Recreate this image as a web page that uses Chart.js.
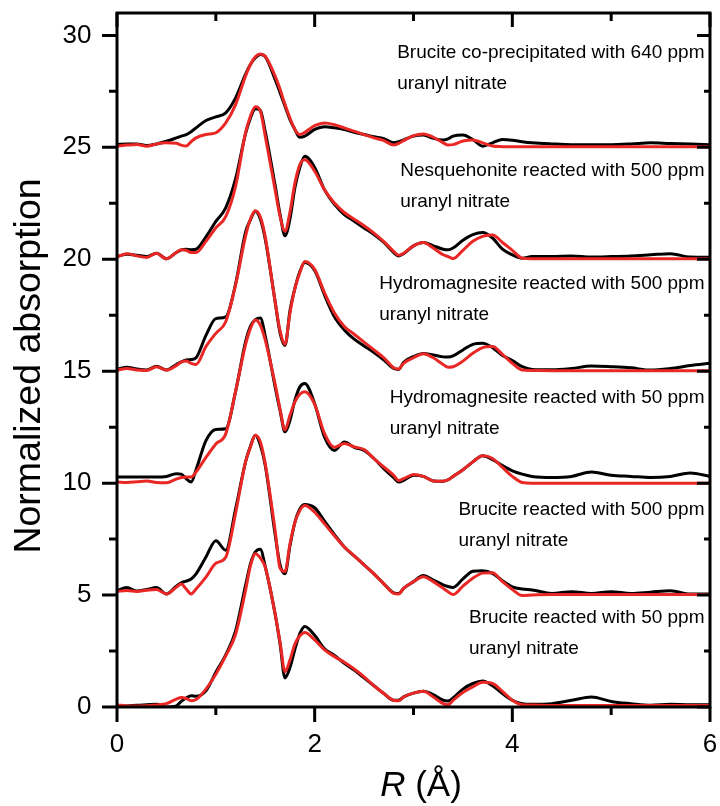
<!DOCTYPE html>
<html>
<head>
<meta charset="utf-8">
<script src="https://cdn.jsdelivr.net/npm/chart.js@4.4.0/dist/chart.umd.min.js"></script>
<style>
html,body{margin:0;padding:0;background:#ffffff;}
#wrap{width:720px;height:806px;position:relative;}
canvas{display:block;}
</style>
</head>
<body>
<div id="wrap"><canvas id="c" width="720" height="806"></canvas></div>
<script>
// ---------- DATA ----------
const rValues = [0,0.1,0.2,0.3,0.4,0.5,0.6,0.65,0.7,0.75,0.8,0.9,1.0,1.1,1.2,1.3,1.35,1.4,1.45,1.5,1.6,1.65,1.7,1.75,1.8,1.85,1.9,2.0,2.1,2.2,2.3,2.4,2.5,2.6,2.7,2.8,2.85,2.9,3.0,3.1,3.2,3.3,3.35,3.4,3.5,3.6,3.7,3.8,3.9,4.0,4.1,4.2,4.4,4.6,4.8,5.0,5.2,5.4,5.6,5.8,6.0];

const brucite640Data = [25.12,25.15,25.15,25.08,25.15,25.27,25.42, 25.5,25.57,25.7,25.87,26.2, 26.36,26.54,27.21,28.26, 28.7,29.0,29.15,29.05, 28.03,27.44,26.84,26.24,25.8,25.45, 25.5,25.8,25.92,25.87,25.8,25.67,25.57,25.47,25.39,25.2, 25.25,25.33,25.5,25.55,25.4,25.33, 25.38,25.5,25.55,25.35,25.05,25.2,25.35,25.32,25.25,25.2, 25.15,25.12,25.12,25.12,25.15,25.2,25.17,25.15,25.12];
const brucite640Fit = [25.05,25.1,25.13,25.05,25.15,25.2,25.18, 25.1,25.06,25.25,25.42,25.57, 25.65,26.09,26.91,28.18, 28.7,29.05,29.17,29.07, 28.18,27.59,26.91,26.31,25.8,25.57, 25.67,25.97,26.09,26.01,25.87,25.72,25.57,25.42,25.3,25.1, 25.18,25.3,25.52,25.6,25.45,25.2, 25.1,25.12,25.28,25.33,25.2,25.06,25.03,25.02,25.02,25.02, 25.02,25.02,25.02,25.02,25.02,25.02,25.02,25.02,25.02];

const nesquehoniteData = [20.12,20.22,20.18,20.12,20.27,20.02,20.3, 20.42,20.45,20.43,20.45,21.0, 21.69,22.3,23.6,25.6, 26.3,26.72,26.65,25.7, 23.3,22.0,21.05,21.8,23.2,24.1, 24.6,24.1,23.1,22.45,22.0,21.7,21.4,21.1,20.75,20.3, 20.15,20.25,20.6,20.75,20.6,20.45, 20.42,20.5,20.85,21.1,21.2,20.95,20.45,20.2,20.05,20.12, 20.12,20.15,20.1,20.12,20.15,20.2,20.25,20.1,20.09];
const nesquehoniteFit = [20.1,20.25,20.15,20.08,20.27,20.02,20.3, 20.42,20.4,20.3,20.3,20.8, 21.4,21.9,23.26,25.64, 26.39,26.81,26.62,25.5, 23.1,21.91,21.25,22.1,23.4,24.23, 24.45,23.93,23.1,22.51,22.09,21.79,21.5,21.17,20.79,20.35, 20.18,20.27,20.6,20.75,20.5,20.2, 20.12,20.03,20.4,20.8,21.02,21.08,20.75,20.4,20.05,20.02, 20.02,20.02,20.02,20.02,20.02,20.02,20.02,20.02,20.02];

const hydromag500Data = [15.08,15.18,15.1,15.05,15.22,15.05,15.3, 15.42,15.5,15.52,15.6,16.6, 17.35,17.43,18.9,21.2, 21.76,22.14,21.8,20.9, 18.1,16.7,16.15,17.7,18.7,19.45, 19.86,19.5,18.4,17.43,16.84,16.43,16.13,15.83,15.5,15.12, 15.08,15.4,15.65,15.79,15.72,15.64, 15.63,15.68,15.95,16.2,16.25,16.05,15.7,15.48,15.2,15.08, 15.06,15.12,15.23,15.2,15.15,15.05,15.12,15.25,15.35];
const hydromag500Fit = [15.05,15.12,15.05,15.03,15.2,15.05,15.25, 15.4,15.45,15.35,15.3,16.1, 16.69,17.21,18.85,21.02, 21.8,22.17,21.9,21.0, 18.1,16.8,16.2,17.6,18.7,19.4, 19.9,19.55,18.5,17.6,17.0,16.65,16.3,15.95,15.6,15.15, 15.1,15.35,15.6,15.78,15.6,15.3, 15.18,15.2,15.45,15.8,16.05,16.1,15.75,15.35,15.05,15.03, 15.02,15.02,15.02,15.02,15.02,15.02,15.02,15.02,15.02];

const hydromag50Data = [10.27,10.27,10.27,10.27,10.27,10.3,10.42, 10.4,10.2,10.05,10.6,11.9, 12.4,12.43,14.1,16.3, 17.0,17.3,17.38,16.57, 14.3,13.24,12.29,12.8,13.7,14.3, 14.45,13.55,12.05,11.46,11.84,11.6,11.46,11.1,10.65,10.24, 10.05,10.12,10.35,10.3,10.1,10.08, 10.15,10.3,10.6,10.95,11.22,11.05,10.78,10.55,10.4,10.3, 10.25,10.3,10.5,10.35,10.3,10.25,10.3,10.45,10.3];
const hydromag50Fit = [10.05,10.03,10.06,10.1,10.03,10.02,10.18, 10.25,10.27,10.27,10.5,11.15, 11.75,12.2,14.1,16.17, 16.9,17.29,17.06,16.39, 14.42,13.3,12.37,13.03,13.63,13.97, 14.08,13.52,12.21,11.6,11.77,11.62,11.5,11.1,10.72,10.35, 10.12,10.2,10.38,10.3,10.1,10.08, 10.15,10.3,10.6,10.95,11.22,11.1,10.7,10.3,10.03,10.0, 10.0,10.0,10.0,10.0,10.0,10.0,10.0,10.0,10.0];

const brucite500Data = [5.19,5.34,5.18,5.25,5.34,5.05,5.4, 5.55,5.62,5.72,5.95,6.7, 7.43,7.0,8.85,10.94, 11.65,12.14,11.7,10.79, 7.7,6.35,5.95,7.2,8.25,8.85, 9.05,8.9,8.3,7.7,7.15,6.75,6.35,5.95,5.5,5.1, 5.07,5.3,5.6,5.87,5.67,5.46, 5.38,5.34,5.72,6.06,6.09,5.97,5.64,5.37,5.27,5.23, 5.07,5.15,5.07,5.15,5.07,5.13,5.19,5.05,5.05];
const brucite500Fit = [5.16,5.2,5.16,5.22,5.25,5.05,5.35, 5.49,5.27,5.05,5.27,5.8, 6.42,6.69,8.66,10.94, 11.61,12.14,11.85,10.86, 7.88,6.2,6.05,7.28,8.25,8.78, 9.0,8.7,8.18,7.65,7.15,6.75,6.35,5.95,5.5,5.08, 5.05,5.3,5.6,5.82,5.6,5.3, 5.15,5.02,5.4,5.75,5.98,6.0,5.6,5.25,4.98,5.0, 5.02,5.02,5.02,5.02,5.02,5.02,5.02,5.02,5.02];

const brucite50Data = [0.04,0.05,0.08,0.1,0.12,0.0,0.05, 0.25,0.4,0.5,0.48,0.72, 1.55,2.33,3.4,5.42, 6.39,6.93,7.05,6.27, 4.15,2.81,1.3,1.76,2.58,3.28, 3.6,3.2,2.6,2.3,1.95,1.65,1.3,0.95,0.6,0.3, 0.3,0.45,0.62,0.7,0.55,0.3, 0.27,0.4,0.8,1.05,1.16,0.95,0.6,0.3,0.15,0.12, 0.15,0.3,0.45,0.25,0.15,0.08,0.12,0.1,0.1];
const brucite50Fit = [0.09,0.05,0.04,0.06,0.09,0.15,0.35, 0.42,0.38,0.28,0.33,0.8, 1.46,2.28,3.25,5.2, 6.3,6.85,6.66,6.24, 4.15,2.88,1.58,2.1,2.81,3.18, 3.33,3.0,2.55,2.25,2.0,1.7,1.35,0.95,0.6,0.3, 0.28,0.45,0.62,0.7,0.45,0.15, 0.1,0.3,0.65,0.9,1.1,1.05,0.7,0.3,0.1,0.09, 0.07,0.07,0.07,0.07,0.07,0.07,0.07,0.07,0.07];

const sampleLabels = [
  ["Brucite co-precipitated with 640 ppm", "uranyl nitrate"],
  ["Nesquehonite reacted with 500 ppm", "uranyl nitrate"],
  ["Hydromagnesite reacted with 500 ppm", "uranyl nitrate"],
  ["Hydromagnesite reacted with 50 ppm", "uranyl nitrate"],
  ["Brucite reacted with 500 ppm", "uranyl nitrate"],
  ["Brucite reacted with 50 ppm", "uranyl nitrate"]
];

const xTickValues = [0, 2, 4, 6];
const xTickLabels = ["0", "2", "4", "6"];
const xMinorTickValues = [1, 3, 5];
const yTickValues = [0, 5, 10, 15, 20, 25, 30];
const yTickLabels = ["0", "5", "10", "15", "20", "25", "30"];
const yMinorTickValues = [2.5, 7.5, 12.5, 17.5, 22.5, 27.5];

const yTitle = "Normalized absorption";
const xTitleItalic = "R";
const xTitleRest = " (\u00C5)";

// ---------- STYLE / LAYOUT ----------
const FONT = '"Liberation Sans", Arial, Helvetica, sans-serif';
const RED = 'rgb(233,40,38)';
const BLACK = '#000000';
const labelBaselines = [57.5, 175.5, 288.5, 403, 515, 622.5];
const labelLineGap = 31;
const labelRight = 704.5;

const seriesList = [
  [brucite640Data, brucite640Fit],
  [nesquehoniteData, nesquehoniteFit],
  [hydromag500Data, hydromag500Fit],
  [hydromag50Data, hydromag50Fit],
  [brucite500Data, brucite500Fit],
  [brucite50Data, brucite50Fit]
];

const datasets = [];
seriesList.forEach((pair, k) => {
  const name = sampleLabels[k].join(' ');
  datasets.push({
    label: name + ' (experiment)',
    data: rValues.map((r, i) => ({x: r, y: pair[0][i]})),
    borderColor: BLACK, borderWidth: 3, pointRadius: 0, fill: false,
    cubicInterpolationMode: 'monotone', order: 2
  });
  datasets.push({
    label: name + ' (fit)',
    data: rValues.map((r, i) => ({x: r, y: pair[1][i]})),
    borderColor: RED, borderWidth: 3, pointRadius: 0, fill: false,
    cubicInterpolationMode: 'monotone', order: 1
  });
});

function zeroPad(s) { s.paddingTop = 0; s.paddingBottom = 0; s.paddingLeft = 0; s.paddingRight = 0; }

const decorPlugin = {
  id: 'decor',
  afterDraw(chart) {
    const ctx = chart.ctx;
    const a = chart.chartArea;
    const xs = chart.scales.x, ys = chart.scales.y;
    ctx.save();
    ctx.strokeStyle = '#000';
    ctx.lineWidth = 3;
    ctx.lineCap = 'butt';
    ctx.strokeRect(a.left, a.top, a.right - a.left, a.bottom - a.top);
    ctx.beginPath();
    const seg = (x1, y1, x2, y2) => { ctx.moveTo(x1, y1); ctx.lineTo(x2, y2); };
    xTickValues.forEach(v => { const p = xs.getPixelForValue(v); seg(p, a.bottom, p, a.bottom + 15); seg(p, a.top, p, a.top + 14); });
    xMinorTickValues.forEach(v => { const p = xs.getPixelForValue(v); seg(p, a.bottom, p, a.bottom + 8); seg(p, a.top, p, a.top + 8); });
    yTickValues.forEach(v => { const p = ys.getPixelForValue(v); seg(a.left - 15, p, a.left, p); seg(a.right - 13, p, a.right, p); });
    yMinorTickValues.forEach(v => { const p = ys.getPixelForValue(v); seg(a.left - 8, p, a.left, p); seg(a.right - 6, p, a.right, p); });
    ctx.stroke();

    // sample labels
    ctx.fillStyle = '#000';
    ctx.font = '19px ' + FONT;
    ctx.textBaseline = 'alphabetic';
    ctx.textAlign = 'left';
    sampleLabels.forEach((lines, k) => {
      const w = ctx.measureText(lines[0]).width;
      const left = labelRight - w;
      lines.forEach((t, j) => ctx.fillText(t, left, labelBaselines[k] + j * labelLineGap));
    });

    // y title
    ctx.save();
    ctx.font = '37.5px ' + FONT;
    ctx.translate(39.5, (a.top + a.bottom) / 2 + 6);
    ctx.rotate(-Math.PI / 2);
    ctx.textAlign = 'center';
    ctx.fillText(yTitle, 0, 0);
    ctx.restore();

    // x title
    ctx.font = 'italic 35px ' + FONT;
    const wi = ctx.measureText(xTitleItalic).width;
    ctx.font = '35px ' + FONT;
    const wr = ctx.measureText(xTitleRest).width;
    const x0 = 421 - (wi + wr) / 2;
    ctx.textAlign = 'left';
    ctx.font = 'italic 35px ' + FONT;
    ctx.fillText(xTitleItalic, x0, 796);
    ctx.font = '35px ' + FONT;
    ctx.fillText(xTitleRest, x0 + wi, 796);
    ctx.restore();
  }
};

new Chart(document.getElementById('c'), {
  type: 'line',
  data: { datasets },
  options: {
    responsive: false,
    animation: false,
    devicePixelRatio: 1,
    layout: { padding: { top: 13, right: 10, left: 0, bottom: 0 } },
    plugins: { legend: { display: false }, tooltip: { enabled: false }, title: { display: false } },
    elements: { line: { borderJoinStyle: 'round', borderCapStyle: 'round' } },
    scales: {
      x: {
        type: 'linear', min: 0, max: 6,
        grid: { display: false, drawTicks: false },
        border: { display: false },
        afterBuildTicks: s => { s.ticks = xTickValues.map(v => ({ value: v })); },
        afterFit: s => { s.height = 99; zeroPad(s); },
        ticks: {
          color: '#000', padding: 22, maxRotation: 0, autoSkip: false,
          font: { family: FONT, size: 26 },
          callback: (v, i) => xTickLabels[i]
        }
      },
      y: {
        type: 'linear', min: 0, max: 31,
        grid: { display: false, drawTicks: false },
        border: { display: false },
        afterBuildTicks: s => { s.ticks = yTickValues.map(v => ({ value: v })); },
        afterFit: s => { s.width = 117; zeroPad(s); },
        ticks: {
          color: '#000', padding: 25.5, autoSkip: false,
          font: { family: FONT, size: 26 },
          callback: (v, i) => yTickLabels[i]
        }
      }
    }
  },
  plugins: [decorPlugin]
});
</script>
</body>
</html>
